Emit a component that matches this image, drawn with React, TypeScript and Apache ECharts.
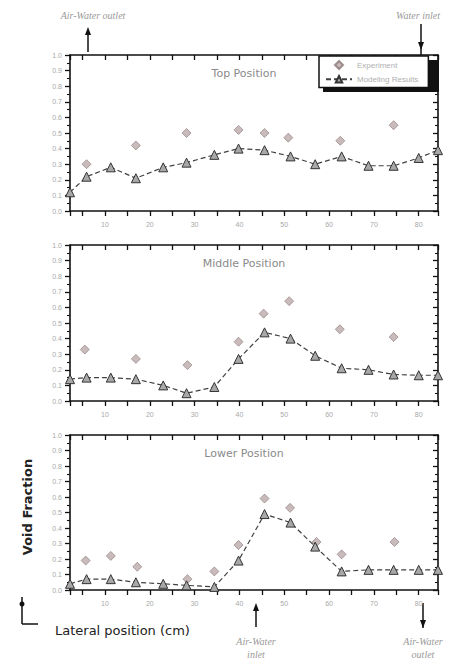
import React, { useEffect, useRef } from 'react';
import * as echarts from 'echarts';

const X_MIN = 2.2;
const X_MAX = 84.3;
const EXP_NAME = 'Experiment';
const SIM_NAME = 'Modeling Results';
const PANEL_TITLES = ['Top Position', 'Middle Position', 'Lower Position'];

const simX = [2.2, 5.9, 11.3, 16.9, 23.0, 28.2, 34.4, 39.8, 45.6, 51.4, 56.9, 62.8, 68.8, 74.4, 80.0, 84.3];
const topSim = [0.12, 0.22, 0.28, 0.21, 0.28, 0.31, 0.36, 0.40, 0.39, 0.35, 0.30, 0.35, 0.29, 0.29, 0.34, 0.39];
const midSim = [0.14, 0.15, 0.15, 0.14, 0.10, 0.05, 0.09, 0.27, 0.44, 0.40, 0.29, 0.21, 0.20, 0.17, 0.165, 0.165];
const lowSim = [0.04, 0.07, 0.07, 0.05, 0.04, 0.03, 0.02, 0.19, 0.49, 0.435, 0.28, 0.12, 0.13, 0.13, 0.13, 0.13];

const topExpX = [5.9, 16.9, 28.2, 39.8, 45.6, 50.9, 62.5, 74.4];
const topExp = [0.30, 0.42, 0.50, 0.52, 0.50, 0.47, 0.45, 0.55];
const midExpX = [5.5, 16.9, 28.4, 39.8, 45.4, 51.1, 62.4, 74.4];
const midExp = [0.33, 0.27, 0.23, 0.38, 0.56, 0.64, 0.46, 0.41];
const lowExpX = [5.7, 11.3, 17.2, 28.4, 34.4, 39.8, 45.6, 51.3, 57.2, 62.8, 74.6];
const lowExp = [0.19, 0.22, 0.15, 0.07, 0.12, 0.29, 0.59, 0.53, 0.31, 0.23, 0.31];

const GRIDS = [
  { top: 55, height: 156 },
  { top: 245, height: 156 },
  { top: 435, height: 155 },
];

const pairs = (xs: number[], ys: number[]) => xs.map((x, i) => [x, ys[i]]);

export default function App() {
  const ref = useRef<HTMLDivElement>(null);
  useEffect(() => {
    document.body.style.margin = '0';
    const chart = echarts.init(ref.current!, null, { renderer: 'svg' });
    const sims = [topSim, midSim, lowSim];
    const expXs = [topExpX, midExpX, lowExpX];
    const exps = [topExp, midExp, lowExp];
    const axisColor = '#111';
    const labelColor = '#a8a8a8';
    const xAxis: any[] = [];
    const yAxis: any[] = [];
    const series: any[] = [];
    const grid: any[] = [];
    GRIDS.forEach((g, i) => {
      grid.push({ left: 70, width: 368, top: g.top, height: g.height });
      const xBase = {
        type: 'value', gridIndex: i, min: X_MIN, max: X_MAX, splitNumber: 16,
        minInterval: 5, maxInterval: 5,
        axisLine: { show: true, onZero: false, lineStyle: { color: axisColor, width: 1.6 } },
        splitLine: { show: false },
      };
      xAxis.push({
        ...xBase, position: 'bottom',
        axisTick: { show: true, inside: false, length: 5, lineStyle: { color: axisColor, width: 1.3 } },
        axisLabel: {
          formatter: (v: number) => (Math.abs(v % 10) < 1e-6 ? String(v) : ''),
          color: labelColor, fontSize: 7, margin: 10, fontFamily: 'Liberation Sans',
        },
      });
      xAxis.push({
        ...xBase, position: 'top',
        axisTick: { show: true, inside: true, length: 5, lineStyle: { color: axisColor, width: 1.3 } },
        axisLabel: { show: false },
      });
      const yBase = {
        type: 'value', gridIndex: i, min: 0, max: 1, interval: 0.1,
        axisLine: { show: true, onZero: false, lineStyle: { color: axisColor, width: 1.6 } },
        splitLine: { show: false },
        minorSplitLine: { show: false },
        minorTick: { show: true, splitNumber: 2, length: 3, lineStyle: { color: axisColor, width: 1.1 } },
      };
      yAxis.push({
        ...yBase, position: 'left',
        axisTick: { show: true, inside: false, length: 5, lineStyle: { color: axisColor, width: 1.3 } },
        axisLabel: {
          formatter: (v: number) => v.toFixed(1),
          color: labelColor, fontSize: 7, margin: 8, fontFamily: 'Liberation Sans',
        },
      });
      yAxis.push({
        ...yBase, position: 'right',
        axisTick: { show: true, inside: true, length: 5, lineStyle: { color: axisColor, width: 1.3 } },
        axisLabel: { show: false },
      });
      series.push({
        type: 'line', name: SIM_NAME, xAxisIndex: 2 * i, yAxisIndex: 2 * i,
        data: pairs(simX, sims[i]),
        symbol: 'triangle', symbolSize: 9,
        lineStyle: { color: '#404040', width: 1.2, type: [5, 3] },
        itemStyle: { color: '#a8a8a8', borderColor: '#333', borderWidth: 1 },
        z: 3,
      });
      series.push({
        type: 'scatter', name: EXP_NAME, xAxisIndex: 2 * i, yAxisIndex: 2 * i,
        data: pairs(expXs[i], exps[i]),
        symbol: 'diamond', symbolSize: 9,
        itemStyle: { color: '#bcaaaa', borderColor: '#8a7878', borderWidth: 0.8 },
        z: 2,
      });
    });

    const titleTexts = PANEL_TITLES.map((t, i) => ({
      type: 'text', x: 244, y: GRIDS[i].top + 18,
      style: { text: t, fontSize: 11, fill: '#8a8a8a', align: 'center', verticalAlign: 'middle', fontFamily: 'DejaVu Sans' },
    }));

    const dark = '#111';
    const note = { fontSize: 10, fill: '#9a9a9a', align: 'center', verticalAlign: 'middle', fontStyle: 'italic', fontFamily: 'Liberation Serif' };

    const option: any = {
      animation: false,
      backgroundColor: '#fff',
      grid,
      xAxis,
      yAxis,
      series,
      legend: {
        data: [
          { name: EXP_NAME, icon: 'path://M4,0L8,4L4,8L0,4Z' },
          { name: SIM_NAME },
        ],
        symbolKeepAspect: true,
        orient: 'vertical', left: 319, top: 56,
        itemWidth: 26, itemHeight: 8, itemGap: 5,
        padding: [4, 10, 4, 6],
        backgroundColor: '#fff', borderColor: dark, borderWidth: 1.5,
        textStyle: { fontSize: 8, color: '#b0b0b0', fontFamily: 'Liberation Sans' },
        z: 10,
      },
      graphic: [
        { type: 'rect', z: 9, shape: { x: 323, y: 60, width: 116, height: 32 }, style: { fill: dark } },
        ...titleTexts,
        { type: 'text', x: 93, y: 15, style: { ...note, text: 'Air-Water outlet' } },
        { type: 'line', shape: { x1: 88, y1: 52, x2: 88, y2: 31 }, style: { stroke: dark, lineWidth: 1.5 } },
        { type: 'polygon', shape: { points: [[85, 35], [88, 27], [91, 35]] }, style: { fill: dark } },
        { type: 'text', x: 418, y: 15, style: { ...note, text: 'Water inlet' } },
        { type: 'line', shape: { x1: 421, y1: 24, x2: 421, y2: 55 }, style: { stroke: dark, lineWidth: 1.5 } },
        { type: 'polygon', shape: { points: [[418, 42], [421, 50], [424, 42]] }, style: { fill: dark } },
        { type: 'line', shape: { x1: 256, y1: 627, x2: 256, y2: 607 }, style: { stroke: dark, lineWidth: 1.5 } },
        { type: 'polygon', shape: { points: [[253, 611], [256, 603], [259, 611]] }, style: { fill: dark } },
        { type: 'text', x: 256, y: 641, style: { ...note, text: 'Air-Water' } },
        { type: 'text', x: 256, y: 654, style: { ...note, text: 'inlet' } },
        { type: 'line', shape: { x1: 423, y1: 603, x2: 423, y2: 628 }, style: { stroke: dark, lineWidth: 1.5 } },
        { type: 'polygon', shape: { points: [[420, 620], [423, 628], [426, 620]] }, style: { fill: dark } },
        { type: 'text', x: 423, y: 641, style: { ...note, text: 'Air-Water' } },
        { type: 'text', x: 423, y: 654, style: { ...note, text: 'outlet' } },
        { type: 'line', shape: { x1: 22, y1: 597, x2: 22, y2: 624 }, style: { stroke: dark, lineWidth: 1.5 } },
        { type: 'line', shape: { x1: 22, y1: 624, x2: 38, y2: 624 }, style: { stroke: dark, lineWidth: 1.5 } },
        { type: 'circle', shape: { cx: 22, cy: 604, r: 2.5 }, style: { fill: dark } },
        {
          type: 'text', x: 55, y: 630,
          style: { text: 'Lateral position (cm)', fontSize: 13, fill: '#222', align: 'left', verticalAlign: 'middle', fontFamily: 'DejaVu Sans' },
        },
        {
          type: 'text', x: 27, y: 507, rotation: Math.PI / 2,
          style: { text: 'Void Fraction', fontSize: 13, fontWeight: 'bold', fill: '#222', align: 'center', verticalAlign: 'middle', fontFamily: 'DejaVu Sans' },
        },
      ],
    };
    chart.setOption(option);
    return () => chart.dispose();
  }, []);
  return <div ref={ref} style={{ width: 451, height: 660 }} />;
}
